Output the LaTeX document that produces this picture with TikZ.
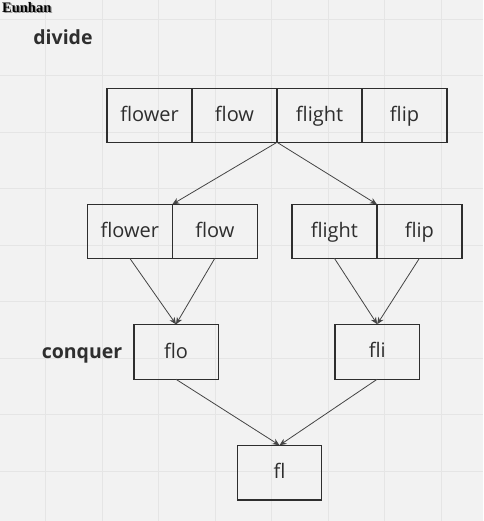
\documentclass[tikz,border=0pt]{standalone}
\usepackage{fontspec}
\setmainfont{Open Sans}
\newfontfamily\wmfont{Liberation Serif}
\usetikzlibrary{arrows.meta}
\definecolor{bg}{HTML}{F2F2F2}
\definecolor{gridc}{HTML}{E5E5E5}
\definecolor{ink}{HTML}{2E2E2E}
\definecolor{arr}{HTML}{444444}
\tikzset{
  cell/.style={draw=ink, line width=1.3pt, minimum width=85pt, minimum height=54pt,
    inner sep=0pt, outer sep=0pt, text=ink, font=\fontsize{20}{24}\selectfont,
    text height=16pt, text depth=3.6pt},
  lbl/.style={text=ink, font=\fontsize{19.5}{23}\selectfont\bfseries, inner sep=0pt, anchor=base},
  conn/.style={draw=arr, line width=0.8pt, -{Stealth[length=7pt,width=6pt]}},
  wmstyle/.style={anchor=north west, inner sep=0pt, font=\wmfont\fontsize{14.5}{15}\selectfont\bfseries},
}
\begin{document}
\begin{tikzpicture}[x=1pt,y=-1pt]
\fill[bg] (0,0) rectangle (483,521);
\useasboundingbox (0,0) rectangle (483,521);
% grid
\foreach \gx in {45.7,102.1,158.6,215,271.5,328,384.4,440.9}
  \draw[gridc, line width=0.8pt] (\gx,0) -- (\gx,521);
\foreach \gy in {19.3,75.8,132.2,188.7,245.1,301.6,358,414.5,470.9}
  \draw[gridc, line width=0.8pt] (0,\gy) -- (483,\gy);
% watermark
\node[wmstyle, text=black!40] (wmshadow) at (3.4,3.4) {Eunhan};
\node[wmstyle, text=black] (wm) at (2,2) {Eunhan};
% labels
\node[lbl] (divide) at (63,45) {divide};
\node[lbl] (conquer) at (82,358) {conquer};
% top row
\node[cell] (t1) at (149.5,115.3) {flower};
\node[cell] (t2) at (234.5,115.3) {flow};
\node[cell] (t3) at (319.5,115.3) {flight};
\node[cell] (t4) at (404.5,115.3) {flip};
% middle row
\node[cell] (m1) at (129.8,231.3) {flower};
\node[cell] (m2) at (214.8,231.3) {flow};
\node[cell] (m3) at (334.4,231.3) {flight};
\node[cell] (m4) at (419.4,231.3) {flip};
% conquer row
\node[cell, minimum width=84.3pt, minimum height=55pt] (flo) at (176,351.8) {flo};
\node[cell, minimum width=84.3pt, minimum height=55pt] (fli) at (377.2,351.7) {fli};
\node[cell, minimum width=84.4pt, minimum height=54.7pt] (fl) at (279.5,472.6) {fl};
% connectors
\draw[conn] (t2.south east) -- (m1.north east);
\draw[conn] (t2.south east) -- (m3.north east);
\draw[conn] (m1.south) -- (flo.north);
\draw[conn] (m2.south) -- (flo.north);
\draw[conn] (m3.south) -- (fli.north);
\draw[conn] (m4.south) -- (fli.north);
\draw[conn] (flo.south) -- (fl.north);
\draw[conn] (fli.south) -- (fl.north);
\end{tikzpicture}
\end{document}
